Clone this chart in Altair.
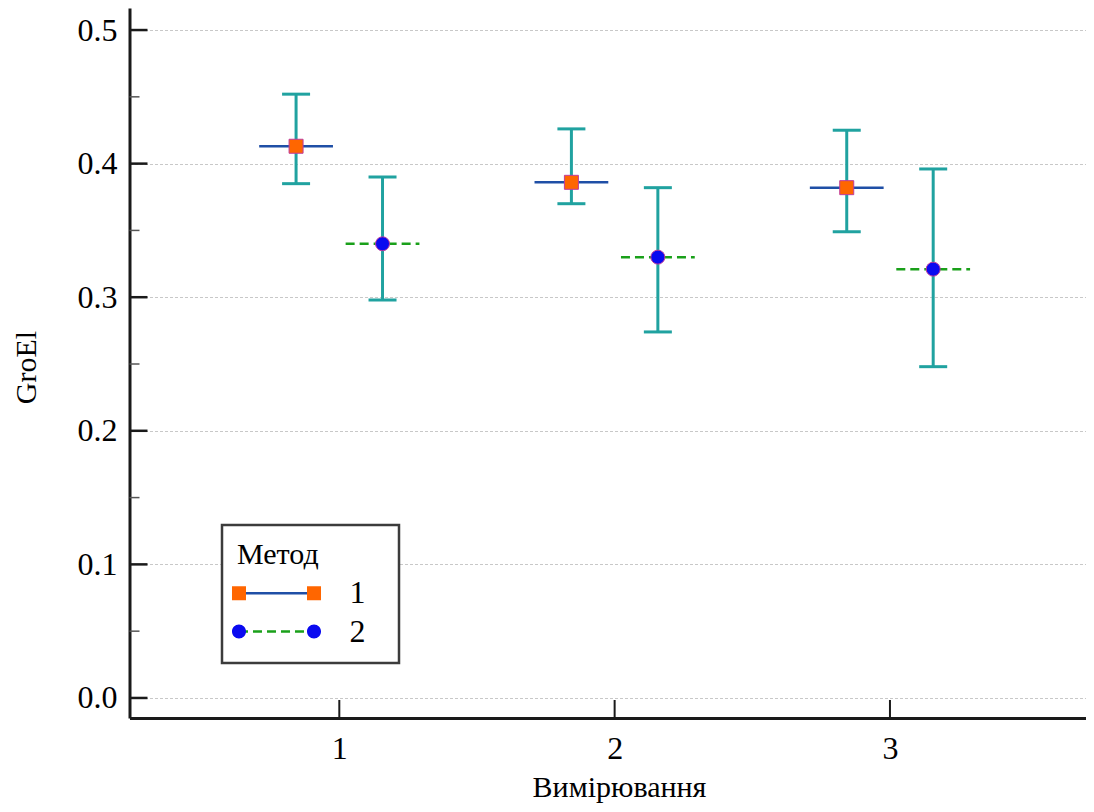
import altair as alt
import pandas as pd

# ---- data ----
groups = [1, 2, 3]
methods = ["1", "2"]
m1_mean = [0.413, 0.386, 0.382]
m1_low = [0.385, 0.370, 0.349]
m1_high = [0.452, 0.426, 0.425]
m2_mean = [0.340, 0.330, 0.321]
m2_low = [0.298, 0.274, 0.248]
m2_high = [0.390, 0.382, 0.396]
y_ticks = [0.0, 0.1, 0.2, 0.3, 0.4, 0.5]
y_minor = [0.05, 0.15, 0.25, 0.35, 0.45]
x_ticks = [1, 2, 3]

# ---- styling / layout constants ----
DODGE = 0.157       # horizontal dodge of the two methods (x units)
HALF = 0.134        # half width of the mean line (x units)
TEAL = "#20a2a0"
BLUE_LINE = "#1f4fa6"
GREEN = "#1aa01a"
ORANGE = "#ff6600"
PT_BLUE = "#0a0af0"
MK_STROKE = "#c03c9c"
AXIS = "#1a1a1a"
FONT = "Liberation Serif"

rows = []
for m, means, lows, highs, sign in [("1", m1_mean, m1_low, m1_high, -1),
                                    ("2", m2_mean, m2_low, m2_high, 1)]:
    for g, mu, lo, hi in zip(groups, means, lows, highs):
        xp = g + sign * DODGE
        rows.append({"g": g, "Метод": m, "Метод_л": m, "x": xp,
                     "x1": xp - HALF, "x2": xp + HALF,
                     "mean": mu, "low": lo, "high": hi})
df = pd.DataFrame(rows)

xs = alt.Scale(domain=[0.238, 3.712], nice=False, zero=False)
ys = alt.Scale(domain=[-0.015, 0.5165], nice=False, zero=False)

x_axis = alt.Axis(values=x_ticks, format="d", title="Вимірювання", grid=False,
                  ticks=False, tickSize=0, labelPadding=40, labelBaseline="alphabetic",
                  titleX=489.5, titleY=78, titleBaseline="alphabetic", titleAlign="center")
y_axis = alt.Axis(values=y_ticks, format=".1f", title="GroEl", grid=True,
                  ticks=False, tickSize=0, labelPadding=12.5,
                  titleX=-94, titleY=359, titleAngle=270, titleAlign="center",
                  titleBaseline="alphabetic")


def X(field):
    return alt.X(field, scale=xs, axis=x_axis)


def Y(field):
    return alt.Y(field, scale=ys, axis=y_axis)


base = alt.Chart(df)

err = base.mark_rule(color=TEAL, strokeWidth=3).encode(x=X("x:Q"), y=Y("low:Q"), y2="high:Q")
cap_lo = base.mark_tick(orient="horizontal", size=28, thickness=3, color=TEAL, opacity=1).encode(
    x=X("x:Q"), y=Y("low:Q"))
cap_hi = base.mark_tick(orient="horizontal", size=28, thickness=3, color=TEAL, opacity=1).encode(
    x=X("x:Q"), y=Y("high:Q"))

K = 14.0  # legend symbol unit in px (sqrt(size)/2)
L = 37.5 / K
H = 7.0 / K
LINE_PATH = f"M{-L:.3f},0L{L:.3f},0"
SQ_PATH = (f"M{-L-H:.3f},{-H:.3f}H{-L+H:.3f}V{H:.3f}H{-L-H:.3f}Z"
           f"M{L-H:.3f},{-H:.3f}H{L+H:.3f}V{H:.3f}H{L-H:.3f}Z")
CI_PATH = (f"M{-L-H:.3f},0A{H:.3f},{H:.3f},0,1,0,{-L+H:.3f},0A{H:.3f},{H:.3f},0,1,0,{-L-H:.3f},0Z"
           f"M{L-H:.3f},0A{H:.3f},{H:.3f},0,1,0,{L+H:.3f},0A{H:.3f},{H:.3f},0,1,0,{L-H:.3f},0Z")

common_leg = dict(title="Метод", orient="none", legendX=92.5, legendY=517,
                  symbolSize=(2 * K) ** 2, symbolOffset=23.5,
                  padding=15, titlePadding=7.3, rowPadding=6.2)

# lower legend: frame, white background and the connecting lines (its texts are invisible;
# its labels sit a little further right so that the frame gets the reference's width)
line_legend = alt.Legend(symbolType=LINE_PATH, symbolStrokeWidth=2.5, labelOffset=75,
                         titleColor="rgba(0,0,0,0)", labelColor="rgba(0,0,0,0)",
                         fillColor="white", strokeColor="#3c3c3c", zindex=1, **common_leg)
# upper legend: visible title, labels and markers
mk_legend = alt.Legend(symbolStrokeWidth=1, symbolStrokeColor=MK_STROKE, labelOffset=57,
                       zindex=2, **common_leg)

lines = base.mark_rule(strokeWidth=2.5).encode(
    x=X("x1:Q"),
    x2="x2:Q",
    y=Y("mean:Q"),
    stroke=alt.Stroke("Метод_л:N", scale=alt.Scale(range=[BLUE_LINE, GREEN]), legend=line_legend),
    strokeDash=alt.StrokeDash("Метод_л:N", scale=alt.Scale(range=[[1, 0], [9, 5]]), legend=line_legend),
)

squares = base.transform_filter("datum['Метод'] == '1'").mark_point(
    shape="square", filled=True, size=196, opacity=1, fill=ORANGE,
    stroke=MK_STROKE, strokeWidth=1).encode(x=X("x:Q"), y=Y("mean:Q"))
circles = base.transform_filter("datum['Метод'] == '2'").mark_point(
    shape="circle", filled=True, size=196, opacity=1, fill=PT_BLUE,
    stroke=MK_STROKE, strokeWidth=1).encode(x=X("x:Q"), y=Y("mean:Q"))

legend_only = base.transform_filter("false").mark_point(filled=True, opacity=1, strokeWidth=1).encode(
    x=X("x:Q"),
    y=Y("mean:Q"),
    fill=alt.Fill("Метод:N", scale=alt.Scale(domain=methods, range=[ORANGE, PT_BLUE]), legend=mk_legend),
    shape=alt.Shape("Метод:N", scale=alt.Scale(domain=methods, range=[SQ_PATH, CI_PATH]), legend=mk_legend),
)

ymaj = alt.Chart(pd.DataFrame({"v": y_ticks})).mark_rule(color=AXIS, strokeWidth=2.5).encode(
    y=Y("v:Q"), x=alt.value(0), x2=alt.value(18))
ymin = alt.Chart(pd.DataFrame({"v": y_minor})).mark_rule(color="#555555", strokeWidth=1.5).encode(
    y=Y("v:Q"), x=alt.value(0), x2=alt.value(10))
xmaj = alt.Chart(pd.DataFrame({"g": x_ticks})).mark_rule(color=AXIS, strokeWidth=2).encode(
    x=X("g:Q"), y=alt.value(710), y2=alt.value(692))

chart = alt.layer(err, cap_lo, cap_hi, lines, squares, circles, legend_only, ymaj, ymin, xmaj).properties(
    width=956.5, height=710,
    autosize=alt.AutoSizeParams(type="none"),
    padding={"left": 121.5, "top": 0, "right": 0, "bottom": 86},
    background="white",
).configure_view(stroke=None).configure_axis(
    labelFont=FONT, labelFontSize=32, labelColor="black",
    titleFont=FONT, titleFontSize=30, titleFontWeight="normal", titleColor="black",
    domainColor=AXIS, domainWidth=3,
    gridColor="#c8c8c8", gridDash=[3, 2], gridWidth=1,
).configure_legend(
    labelFont=FONT, labelFontSize=32, labelColor="black",
    titleFont=FONT, titleFontSize=30, titleFontWeight="normal", titleColor="black",
    strokeWidth=2.5,
)

chart.save("out.html", embed_options={"renderer": "svg", "actions": False})
